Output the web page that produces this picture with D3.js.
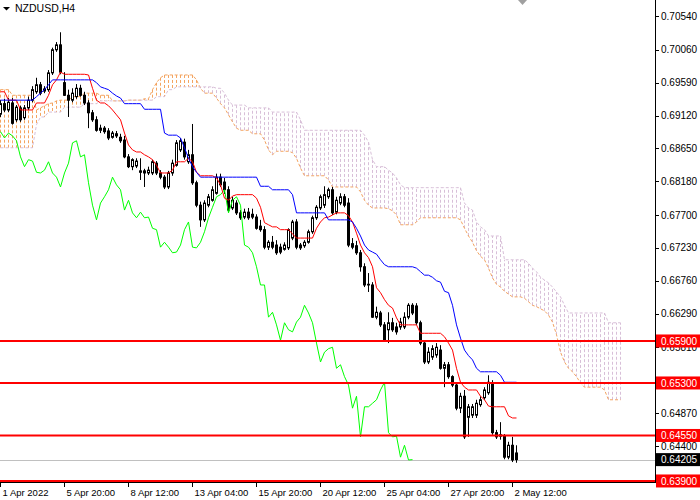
<!DOCTYPE html>
<html>
<head>
<meta charset="utf-8">
<script src="https://cdn.jsdelivr.net/npm/d3@7"></script>
<style>
  body { margin: 0; background: #fff; }
  text { font-family: "Liberation Sans", Arial, sans-serif; }
</style>
</head>
<body>
<svg id="chart" width="700" height="500"></svg>
<script>
// NZDUSD H4 candles, 130 bars
var open = [0.6914,0.6929,0.6920,0.6930,0.6906,0.6923,0.6909,0.6923,0.6934,0.6946,
0.6956,0.6947,0.6949,0.6973,0.7006,0.7013,0.6959,0.6941,0.6934,0.6939,
0.6951,0.6941,0.6930,0.6916,0.6906,0.6891,0.6894,0.6890,0.6881,0.6886,
0.6881,0.6877,0.6853,0.6839,0.6840,0.6833,0.6833,0.6830,0.6830,0.6844,
0.6830,0.6824,0.6810,0.6830,0.6841,0.6863,0.6874,0.6846,0.6856,0.6816,
0.6784,0.6763,0.6784,0.6791,0.6801,0.6824,0.6817,0.6806,0.6780,0.6787,
0.6773,0.6767,0.6774,0.6771,0.6767,0.6754,0.6749,0.6724,0.6731,0.6727,
0.6724,0.6721,0.6723,0.6737,0.6760,0.6727,0.6726,0.6731,0.6746,0.6766,
0.6780,0.6784,0.6796,0.6806,0.6774,0.6787,0.6796,0.6787,0.6729,0.6726,
0.6716,0.6696,0.6671,0.6670,0.6624,0.6630,0.6613,0.6606,0.6616,0.6610,
0.6610,0.6610,0.6624,0.6641,0.6640,0.6616,0.6587,0.6560,0.6567,0.6570,
0.6577,0.6551,0.6556,0.6539,0.6527,0.6494,0.6511,0.6481,0.6484,0.6484,
0.6499,0.6509,0.6516,0.6530,0.6459,0.6456,0.6454,0.6424,0.6441,0.6430];

var high = [0.6934,0.6936,0.6937,0.6937,0.6927,0.6926,0.6927,0.6939,0.6954,0.6966,
0.6960,0.6954,0.6977,0.7009,0.7017,0.7031,0.6974,0.6949,0.6951,0.6957,
0.6956,0.6946,0.6934,0.6920,0.6911,0.6899,0.6897,0.6894,0.6890,0.6890,
0.6886,0.6883,0.6857,0.6851,0.6851,0.6851,0.6836,0.6839,0.6849,0.6847,
0.6834,0.6827,0.6833,0.6849,0.6877,0.6880,0.6879,0.6863,0.6900,0.6819,
0.6789,0.6791,0.6800,0.6811,0.6829,0.6829,0.6823,0.6811,0.6796,0.6791,
0.6777,0.6779,0.6780,0.6779,0.6771,0.6763,0.6754,0.6734,0.6740,0.6734,
0.6729,0.6731,0.6751,0.6763,0.6764,0.6730,0.6734,0.6749,0.6769,0.6784,
0.6799,0.6811,0.6809,0.6810,0.6796,0.6801,0.6800,0.6794,0.6737,0.6733,
0.6720,0.6701,0.6687,0.6674,0.6639,0.6633,0.6617,0.6631,0.6623,0.6616,
0.6623,0.6631,0.6644,0.6644,0.6644,0.6619,0.6591,0.6581,0.6584,0.6587,
0.6584,0.6560,0.6560,0.6541,0.6531,0.6516,0.6520,0.6500,0.6500,0.6506,
0.6511,0.6524,0.6541,0.6534,0.6463,0.6474,0.6457,0.6446,0.6453,0.6441];

var low = [0.6910,0.6917,0.6917,0.6899,0.6903,0.6903,0.6906,0.6920,0.6931,0.6943,
0.6941,0.6944,0.6946,0.6970,0.7003,0.6971,0.6940,0.6910,0.6931,0.6936,
0.6939,0.6927,0.6894,0.6903,0.6889,0.6887,0.6886,0.6877,0.6879,0.6880,
0.6873,0.6851,0.6837,0.6834,0.6837,0.6820,0.6810,0.6827,0.6827,0.6827,
0.6821,0.6807,0.6807,0.6826,0.6839,0.6860,0.6849,0.6843,0.6813,0.6781,
0.6753,0.6760,0.6781,0.6789,0.6799,0.6810,0.6800,0.6774,0.6777,0.6770,
0.6763,0.6764,0.6763,0.6764,0.6749,0.6746,0.6721,0.6720,0.6721,0.6713,
0.6714,0.6719,0.6720,0.6734,0.6721,0.6720,0.6723,0.6729,0.6743,0.6763,
0.6777,0.6780,0.6793,0.6770,0.6771,0.6784,0.6781,0.6724,0.6721,0.6713,
0.6689,0.6667,0.6660,0.6623,0.6621,0.6610,0.6589,0.6587,0.6603,0.6599,
0.6606,0.6607,0.6621,0.6627,0.6613,0.6584,0.6557,0.6557,0.6563,0.6566,
0.6549,0.6524,0.6536,0.6524,0.6491,0.6487,0.6450,0.6453,0.6480,0.6480,
0.6496,0.6506,0.6513,0.6456,0.6450,0.6449,0.6421,0.6421,0.6417,0.6416];

var close = [0.6929,0.6920,0.6931,0.6901,0.6924,0.6906,0.6923,0.6934,0.6949,0.6956,
0.6944,0.6950,0.6973,0.7006,0.7013,0.6974,0.6941,0.6934,0.6944,0.6951,
0.6941,0.6930,0.6916,0.6906,0.6891,0.6894,0.6889,0.6880,0.6887,0.6883,
0.6876,0.6853,0.6839,0.6849,0.6847,0.6831,0.6830,0.6834,0.6846,0.6830,
0.6824,0.6810,0.6830,0.6844,0.6873,0.6876,0.6853,0.6856,0.6816,0.6784,
0.6763,0.6787,0.6796,0.6806,0.6824,0.6813,0.6806,0.6777,0.6791,0.6773,
0.6766,0.6774,0.6766,0.6767,0.6751,0.6749,0.6724,0.6731,0.6724,0.6716,
0.6717,0.6727,0.6749,0.6760,0.6724,0.6723,0.6731,0.6746,0.6766,0.6781,
0.6796,0.6799,0.6806,0.6773,0.6791,0.6796,0.6784,0.6727,0.6724,0.6716,
0.6696,0.6670,0.6670,0.6624,0.6631,0.6613,0.6591,0.6616,0.6606,0.6603,
0.6617,0.6624,0.6641,0.6630,0.6616,0.6587,0.6560,0.6574,0.6579,0.6581,
0.6551,0.6556,0.6539,0.6527,0.6494,0.6511,0.6453,0.6496,0.6496,0.6501,
0.6506,0.6520,0.6531,0.6459,0.6453,0.6454,0.6424,0.6441,0.6420,0.64205];

// Ichimoku lines
var tenkan = [0.6946,0.6946,0.6934,0.6934,0.6934,0.6920,0.6920,0.6920,0.6920,0.6930,
0.6930,0.6930,0.6941,0.6956,0.6963,0.6974,0.6971,0.6971,0.6971,0.6971,
0.6971,0.6971,0.6970,0.6951,0.6934,0.6930,0.6930,0.6926,0.6920,0.6913,
0.6906,0.6887,0.6870,0.6863,0.6860,0.6860,0.6856,0.6853,0.6849,0.6841,
0.6830,0.6830,0.6830,0.6834,0.6846,0.6846,0.6846,0.6851,0.6846,0.6831,
0.6826,0.6826,0.6826,0.6826,0.6823,0.6813,0.6794,0.6791,0.6797,0.6799,
0.6799,0.6799,0.6799,0.6799,0.6794,0.6781,0.6759,0.6756,0.6753,0.6753,
0.6749,0.6749,0.6749,0.6743,0.6737,0.6737,0.6737,0.6737,0.6737,0.6751,
0.6760,0.6766,0.6767,0.6770,0.6773,0.6773,0.6773,0.6769,0.6760,0.6744,
0.6727,0.6716,0.6709,0.6696,0.6666,0.6659,0.6649,0.6641,0.6637,0.6623,
0.6613,0.6613,0.6613,0.6613,0.6613,0.6601,0.6601,0.6601,0.6601,0.6601,
0.6601,0.6596,0.6587,0.6577,0.6551,0.6531,0.6524,0.6520,0.6520,0.6520,
0.6511,0.6506,0.6497,0.6496,0.6496,0.6496,0.6496,0.6483,0.6480,0.6480];

var kijun = [0.6934,0.6934,0.6934,0.6934,0.6934,0.6934,0.6934,0.6934,0.6934,0.6939,
0.6944,0.6949,0.6956,0.6963,0.6963,0.6963,0.6963,0.6963,0.6963,0.6963,
0.6963,0.6963,0.6963,0.6963,0.6959,0.6953,0.6951,0.6949,0.6944,0.6940,
0.6937,0.6929,0.6929,0.6929,0.6929,0.6929,0.6921,0.6921,0.6921,0.6921,
0.6921,0.6887,0.6884,0.6884,0.6884,0.6880,0.6866,0.6851,0.6839,0.6831,
0.6824,0.6824,0.6824,0.6824,0.6824,0.6824,0.6824,0.6824,0.6824,0.6824,
0.6824,0.6824,0.6824,0.6824,0.6824,0.6811,0.6811,0.6811,0.6806,0.6806,
0.6806,0.6806,0.6806,0.6799,0.6773,0.6773,0.6773,0.6773,0.6773,0.6773,
0.6773,0.6773,0.6763,0.6763,0.6763,0.6763,0.6763,0.6763,0.6760,0.6751,
0.6740,0.6727,0.6720,0.6717,0.6714,0.6706,0.6699,0.6696,0.6696,0.6696,
0.6696,0.6696,0.6696,0.6696,0.6694,0.6689,0.6684,0.6684,0.6681,0.6676,
0.6674,0.6661,0.6659,0.6641,0.6613,0.6594,0.6577,0.6569,0.6563,0.6551,
0.6546,0.6546,0.6546,0.6546,0.6546,0.6541,0.6531,0.6531,0.6531,0.6531];

// Senkou spans, plotted 26 bars ahead (156 values)
var spanA = [0.6949,0.6949,0.6949,0.6941,0.6941,0.6941,0.6941,0.6941,0.6941,0.6920,
0.6923,0.6926,0.6929,0.6930,0.6933,0.6934,0.6934,0.6934,0.6939,0.6939,
0.6939,0.6944,0.6944,0.6944,0.6944,0.6941,0.6941,0.6941,0.6933,0.6933,
0.6933,0.6933,0.6934,0.6934,0.6934,0.6934,0.6936,0.6936,0.6949,0.6959,
0.6966,0.6970,0.6970,0.6970,0.6970,0.6970,0.6970,0.6970,0.6970,0.6963,
0.6951,0.6944,0.6944,0.6944,0.6937,0.6929,0.6923,0.6913,0.6903,0.6894,
0.6891,0.6891,0.6891,0.6886,0.6886,0.6886,0.6877,0.6863,0.6856,0.6861,
0.6861,0.6861,0.6861,0.6859,0.6851,0.6837,0.6826,0.6826,0.6826,0.6826,
0.6826,0.6826,0.6820,0.6810,0.6810,0.6810,0.6810,0.6810,0.6810,0.6810,
0.6803,0.6791,0.6784,0.6780,0.6780,0.6780,0.6780,0.6779,0.6776,0.6770,
0.6756,0.6756,0.6756,0.6756,0.6760,0.6766,0.6766,0.6766,0.6766,0.6766,
0.6766,0.6766,0.6766,0.6766,0.6766,0.6763,0.6751,0.6740,0.6731,0.6719,
0.6711,0.6706,0.6694,0.6680,0.6671,0.6667,0.6661,0.6657,0.6653,0.6653,
0.6653,0.6651,0.6646,0.6641,0.6639,0.6636,0.6633,0.6627,0.6617,0.6599,
0.6574,0.6560,0.6551,0.6546,0.6539,0.6530,0.6524,0.6524,0.6524,0.6524,
0.6524,0.6520,0.6506,0.6506,0.6506,0.6506];

var spanB = [0.6866,0.6866,0.6866,0.6866,0.6866,0.6866,0.6866,0.6866,0.6866,0.6899,
0.6910,0.6910,0.6917,0.6917,0.6917,0.6917,0.6924,0.6924,0.6924,0.6924,
0.6924,0.6929,0.6929,0.6929,0.6929,0.6933,0.6933,0.6933,0.6933,0.6933,
0.6933,0.6933,0.6934,0.6934,0.6934,0.6934,0.6934,0.6934,0.6934,0.6939,
0.6939,0.6939,0.6949,0.6949,0.6953,0.6953,0.6953,0.6953,0.6953,0.6953,
0.6953,0.6953,0.6953,0.6953,0.6951,0.6951,0.6944,0.6934,0.6927,0.6927,
0.6927,0.6927,0.6923,0.6923,0.6923,0.6923,0.6923,0.6923,0.6917,0.6917,
0.6917,0.6917,0.6917,0.6917,0.6917,0.6906,0.6891,0.6891,0.6891,0.6891,
0.6891,0.6891,0.6891,0.6891,0.6891,0.6891,0.6891,0.6891,0.6891,0.6891,
0.6891,0.6884,0.6874,0.6849,0.6839,0.6839,0.6839,0.6834,0.6830,0.6823,
0.6813,0.6809,0.6809,0.6809,0.6809,0.6809,0.6809,0.6809,0.6809,0.6809,
0.6809,0.6809,0.6809,0.6809,0.6809,0.6809,0.6787,0.6780,0.6777,0.6760,
0.6753,0.6749,0.6740,0.6740,0.6740,0.6740,0.6706,0.6706,0.6706,0.6706,
0.6706,0.6706,0.6701,0.6694,0.6689,0.6681,0.6677,0.6673,0.6667,0.6660,
0.6653,0.6641,0.6630,0.6630,0.6630,0.6630,0.6630,0.6630,0.6630,0.6630,
0.6630,0.6630,0.6616,0.6616,0.6616,0.6616];

// axes and levels
var timeTickBars = [0, 16, 32, 48, 64, 80, 96, 112, 128];
var timeTickLabels = ["1 Apr 2022", "5 Apr 20:00", "8 Apr 12:00", "13 Apr 04:00", "15 Apr 20:00",
                      "20 Apr 12:00", "25 Apr 04:00", "27 Apr 20:00", "2 May 12:00"];
// 0.65340 and 0.63930 sit under the level tags, so they are left out
var priceTicks = [0.70540, 0.70060, 0.69590, 0.69120, 0.68650, 0.68180, 0.67700, 0.67230,
                  0.66760, 0.66290, 0.65810, 0.64870, 0.64400];
var levels = [0.65900, 0.65300, 0.64550, 0.63900];
var bid = 0.64205;
var chikouShift = 26;

var svg = d3.select("#chart");
var plotW = 655, plotH = 482.3;

var x = d3.scaleLinear().domain([0, 1]).range([0.5, 4.5]);   // 4 px per bar
var y = d3.scaleLinear().domain([0.63881, 0.70771]).range([plotH, 0]);

svg.append("defs").append("clipPath").attr("id", "plotclip")
  .append("rect").attr("x", 0).attr("y", 0).attr("width", plotW).attr("height", 483);

var plot = svg.append("g").attr("clip-path", "url(#plotclip)");

// kumo hatching
plot.append("g").selectAll("line")
  .data(spanA)
  .enter()
  .append("line")
    .attr("x1", (d, i) => x(i))
    .attr("x2", (d, i) => x(i))
    .attr("y1", d => y(d))
    .attr("y2", (d, i) => y(spanB[i]))
    .attr("stroke", (d, i) => d >= spanB[i] ? "#f4a460" : "#d8bfd8")
    .attr("stroke-width", 1)
    .attr("stroke-dasharray", "3,2");

var line = d3.line().x((d, i) => x(i)).y(d => y(d));

plot.append("path").datum(spanA)
  .attr("d", line).attr("fill", "none")
  .attr("stroke", "#f4a460").attr("stroke-dasharray", "3,2");
plot.append("path").datum(spanB)
  .attr("d", line).attr("fill", "none")
  .attr("stroke", "#d8bfd8").attr("stroke-dasharray", "3,2");

// bid line
plot.append("line")
  .attr("x1", 0).attr("x2", plotW)
  .attr("y1", Math.round(y(bid)) + 0.5).attr("y2", Math.round(y(bid)) + 0.5)
  .attr("stroke", "#c0c0c0");

// candles
var bars = d3.range(open.length);
var candles = plot.append("g");

candles.selectAll("line")
  .data(bars)
  .enter()
  .append("line")
    .attr("x1", i => x(i))
    .attr("x2", i => x(i))
    .attr("y1", i => y(high[i]))
    .attr("y2", i => y(low[i]))
    .attr("stroke", "#000");

candles.selectAll("rect")
  .data(bars)
  .enter()
  .append("rect")
    .attr("x", i => x(i) - 1)
    .attr("width", 2)
    .attr("y", i => y(Math.max(open[i], close[i])))
    .attr("height", i => Math.max(0.5, Math.abs(y(open[i]) - y(close[i]))))
    .attr("fill", i => close[i] < open[i] ? "#000" : "#fff")
    .attr("stroke", "#000");

// chikou span: closes plotted 26 bars back
var chikou = close.slice(chikouShift);
plot.append("path").datum(chikou)
  .attr("d", line).attr("fill", "none")
  .attr("stroke", "#00ff00");

plot.append("path").datum(tenkan)
  .attr("d", line).attr("fill", "none")
  .attr("stroke", "#ff0000");

plot.append("path").datum(kijun)
  .attr("d", line).attr("fill", "none")
  .attr("stroke", "#0000ff");

// horizontal levels
plot.selectAll(".level")
  .data(levels)
  .enter()
  .append("line")
    .attr("class", "level")
    .attr("x1", 0).attr("x2", plotW)
    .attr("y1", d => y(d)).attr("y2", d => y(d))
    .attr("stroke", "#ff0000")
    .attr("stroke-width", 2);

// frame
svg.append("line").attr("x1", 655.5).attr("x2", 655.5).attr("y1", 0).attr("y2", 483)
  .attr("stroke", "#000");
svg.append("line").attr("x1", 0).attr("x2", 656).attr("y1", 482.5).attr("y2", 482.5)
  .attr("stroke", "#000");

// right price scale
var pAxis = svg.append("g");
pAxis.selectAll("line")
  .data(priceTicks)
  .enter()
  .append("line")
    .attr("x1", 656).attr("x2", 659)
    .attr("y1", d => Math.round(y(d)) + 0.5)
    .attr("y2", d => Math.round(y(d)) + 0.5)
    .attr("stroke", "#000");
pAxis.selectAll("text")
  .data(priceTicks)
  .enter()
  .append("text")
    .attr("x", 661)
    .attr("y", d => y(d))
    .attr("dy", "0.36em")
    .style("font-size", "10px")
    .attr("fill", "#000")
    .text(d => d.toFixed(5));

var tags = levels.map(d => ({v: d, fill: "#ff0000"})).concat([{v: bid, fill: "#000"}]);
var tag = svg.append("g").selectAll("g")
  .data(tags)
  .enter()
  .append("g");
tag.append("rect")
  .attr("x", 656).attr("y", d => y(d.v) - 6.5)
  .attr("width", 44).attr("height", 13)
  .attr("fill", d => d.fill);
tag.append("text")
  .attr("x", 661)
  .attr("y", d => y(d.v))
  .attr("dy", "0.36em")
  .style("font-size", "10px")
  .attr("fill", "#fff")
  .text(d => d.v.toFixed(5));

// time scale
var tAxis = svg.append("g");
tAxis.selectAll("line")
  .data(timeTickBars)
  .enter()
  .append("line")
    .attr("x1", d => x(d)).attr("x2", d => x(d))
    .attr("y1", 483).attr("y2", 487)
    .attr("stroke", "#000");
tAxis.selectAll("text")
  .data(timeTickBars)
  .enter()
  .append("text")
    .attr("x", d => x(d) + 2)
    .attr("y", 496)
    .style("font-size", "9.5px")
    .attr("fill", "#000")
    .text((d, i) => timeTickLabels[i]);

// header
svg.append("path").attr("d", "M3,7 L10,7 L6.5,10.5 Z").attr("fill", "#000");
svg.append("text")
  .attr("x", 15).attr("y", 12)
  .style("font-size", "10.5px")
  .attr("fill", "#000")
  .text("NZDUSD,H4");

// chart shift marker
svg.append("path").attr("d", "M518,0 L527,0 L522.5,5 Z").attr("fill", "#a0a0a0");
</script>
</body>
</html>
